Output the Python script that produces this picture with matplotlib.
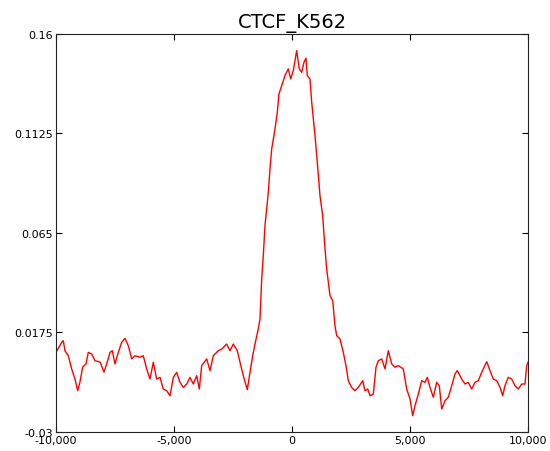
import matplotlib
matplotlib.use("Agg")
import matplotlib.pyplot as plt

# profile values
pos = [-10000, -9758, -9691, -9619, -9479, -9335, -9195, -9081, -8983, -8869,
       -8729, -8631, -8487, -8347, -8136, -7966, -7852, -7712, -7614, -7500,
       -7360, -7216, -7076, -6936, -6792, -6653, -6441, -6301, -6157, -6017,
       -5877, -5733, -5593, -5453, -5309, -5169, -5030, -4886, -4746, -4606,
       -4462, -4322, -4182, -4038, -3928, -3826, -3614, -3475, -3335, -3123,
       -2979, -2767, -2627, -2487, -2318, -2203, -2064, -1894, -1780, -1665,
       -1568, -1428, -1356, -1284, -1216, -1144, -1004, -932, -860, -720,
       -623, -551, -436, -297, -157, -55, 55, 199, 309, 411,
       508, 593, 648, 763, 835, 975, 1072, 1186, 1301, 1398,
       1470, 1610, 1725, 1822, 1894, 2034, 2174, 2288, 2386, 2530,
       2669, 2809, 2996, 3093, 3208, 3305, 3445, 3559, 3657, 3801,
       3941, 4081, 4225, 4364, 4504, 4716, 4860, 5000, 5114, 5212,
       5352, 5496, 5636, 5733, 5847, 5987, 6131, 6242, 6343, 6483,
       6623, 6767, 6907, 7004, 7191, 7331, 7470, 7614, 7754, 7894,
       8038, 8250, 8390, 8530, 8674, 8814, 8928, 9025, 9165, 9309,
       9449, 9589, 9733, 9873, 9945, 10000]
signal = [0.0080, 0.0128, 0.0136, 0.0088, 0.0064, 0.0001, -0.0047, -0.0103, -0.0061, 0.0010,
          0.0025, 0.0080, 0.0072, 0.0040, 0.0034, -0.0014, 0.0025, 0.0080, 0.0088, 0.0025,
          0.0080, 0.0128, 0.0147, 0.0112, 0.0049, 0.0064, 0.0057, 0.0064, 0.0001, -0.0047,
          0.0033, -0.0047, -0.0039, -0.0095, -0.0103, -0.0127, -0.0039, -0.0015, -0.0063, -0.0087,
          -0.0071, -0.0039, -0.0071, -0.0031, -0.0095, 0.0017, 0.0049, -0.0007, 0.0064, 0.0088,
          0.0096, 0.0120, 0.0088, 0.0120, 0.0088, 0.0033, -0.0031, -0.0098, -0.0015, 0.0064,
          0.0120, 0.0192, 0.0239, 0.0430, 0.0542, 0.0685, 0.0844, 0.0956, 0.1051, 0.1146,
          0.1226, 0.1314, 0.1353, 0.1401, 0.1433, 0.1385, 0.1425, 0.1520, 0.1433, 0.1417,
          0.1465, 0.1484, 0.1401, 0.1385, 0.1274, 0.1115, 0.0988, 0.0828, 0.0733, 0.0574,
          0.0478, 0.0351, 0.0327, 0.0207, 0.0160, 0.0144, 0.0080, 0.0017, -0.0055, -0.0087,
          -0.0103, -0.0087, -0.0055, -0.0103, -0.0095, -0.0127, -0.0119, 0.0009, 0.0040, 0.0049,
          0.0001, 0.0088, 0.0025, 0.0009, 0.0017, 0.0001, -0.0095, -0.0142, -0.0222, -0.0174,
          -0.0119, -0.0055, -0.0063, -0.0039, -0.0087, -0.0134, -0.0063, -0.0079, -0.0190, -0.0151,
          -0.0134, -0.0079, -0.0023, -0.0007, -0.0047, -0.0071, -0.0063, -0.0095, -0.0063, -0.0055,
          -0.0015, 0.0036, -0.0007, -0.0047, -0.0055, -0.0087, -0.0127, -0.0079, -0.0039, -0.0047,
          -0.0079, -0.0095, -0.0071, -0.0071, 0.0017, 0.0033]

xticks = [-10000, -5000, 0, 5000, 10000]
xlabels = ["-10,000", "-5,000", "0", "5,000", "10,000"]
yticks = [-0.03, 0.0175, 0.065, 0.1125, 0.16]
ylabels = ["-0.03", "0.0175", "0.065", "0.1125", "0.16"]

plt.rcParams['font.family'] = ['DejaVu Sans']
fig = plt.figure(figsize=(5.5, 4.52), dpi=100)
ax = fig.add_axes([0.1018, 0.042, 0.8582, 0.8808])

ax.plot(pos, signal, color="red", linewidth=1.0)

ax.set_xlim(-10000, 10000)
ax.set_ylim(-0.03, 0.16)
ax.set_xticks(xticks)
ax.set_xticklabels(xlabels)
ax.set_yticks(yticks)
ax.set_yticklabels(ylabels)
ax.tick_params(direction="in", top=True, right=True, length=4, labelsize=8, pad=2)
for s in ax.spines.values():
    s.set_color("#222222")

ax.set_title("CTCF_K562", fontsize=14, pad=5)

fig.savefig("out.png", dpi=100)
